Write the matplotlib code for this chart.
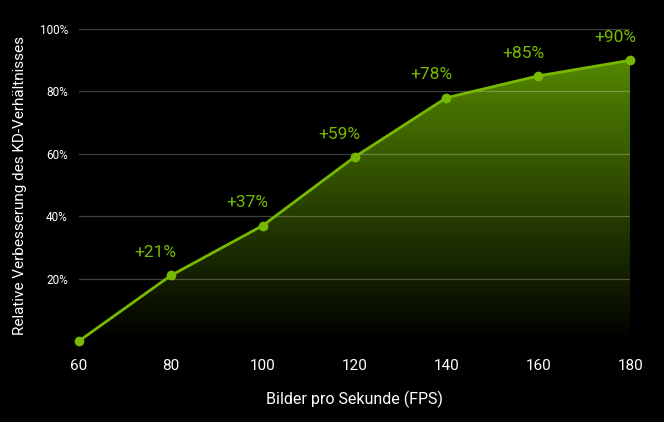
import numpy as np
import matplotlib
matplotlib.use("Agg")
import matplotlib.pyplot as plt
from matplotlib.path import Path
from matplotlib.patches import PathPatch

fps = [60, 80, 100, 120, 140, 160, 180]
gain = [0, 21, 37, 59, 78, 85, 90]
labels = ["", "+21%", "+37%", "+59%", "+78%", "+85%", "+90%"]
y_ticks = [0, 20, 40, 60, 80, 100]
y_tick_labels = ["", "20%", "40%", "60%", "80%", "100%"]

green = "#76b900"
plt.rcParams['font.family'] = ['Roboto', 'DejaVu Sans']

fig = plt.figure(figsize=(6.64, 4.22), dpi=100, facecolor="black")
ax = fig.add_axes([0.119, 0.192, 0.830, 0.739])
ax.set_facecolor("black")
ax.set_xlim(60, 180)
ax.set_ylim(0, 100)

# Gitternetz ueber der Fuellung, halbtransparent
for y in y_ticks:
    ax.axhline(y, color="white", alpha=0.25, lw=0.9, zorder=3)

# Verlaufsfuellung unter der Kurve
verts = [(fps[0], 0)] + list(zip(fps, gain)) + [(fps[-1], 0), (fps[0], 0)]
poly = PathPatch(Path(verts), facecolor="none", edgecolor="none")
ax.add_patch(poly)
grad = np.linspace(0, 1, 256).reshape(-1, 1)
top = np.array([0.33, 0.53, 0.0])
img = np.zeros((256, 1, 3))
img[:, 0, :] = grad * top
im = ax.imshow(img, extent=[60, 180, 0, 90], origin="lower", aspect="auto", zorder=2)
im.set_clip_path(poly)

ax.plot(fps, gain, color=green, lw=2, marker="o", ms=6, zorder=4, clip_on=False)

for x, y, t in zip(fps, gain, labels):
    if t:
        ax.annotate(t, (x, y), xytext=(-11, 11), textcoords="offset points",
                    ha="center", va="bottom", color=green, fontsize=12.5, zorder=5)

ax.set_xticks(fps)
ax.set_xticklabels([str(f) for f in fps], color="white", fontsize=11)
ax.set_yticks(y_ticks)
ax.set_yticklabels(y_tick_labels, color="white", fontsize=8.5)
ax.tick_params(axis="both", length=0)
ax.tick_params(axis="x", pad=13)
ax.tick_params(axis="y", pad=8)
for s in ax.spines.values():
    s.set_visible(False)

ax.set_xlabel("Bilder pro Sekunde (FPS)", color="white", fontsize=11.5, labelpad=13)
ax.set_ylabel("Relative Verbesserung des KD-Verhältnisses", color="white", fontsize=11, labelpad=9)

fig.savefig("out.png", dpi=100, facecolor="black")
